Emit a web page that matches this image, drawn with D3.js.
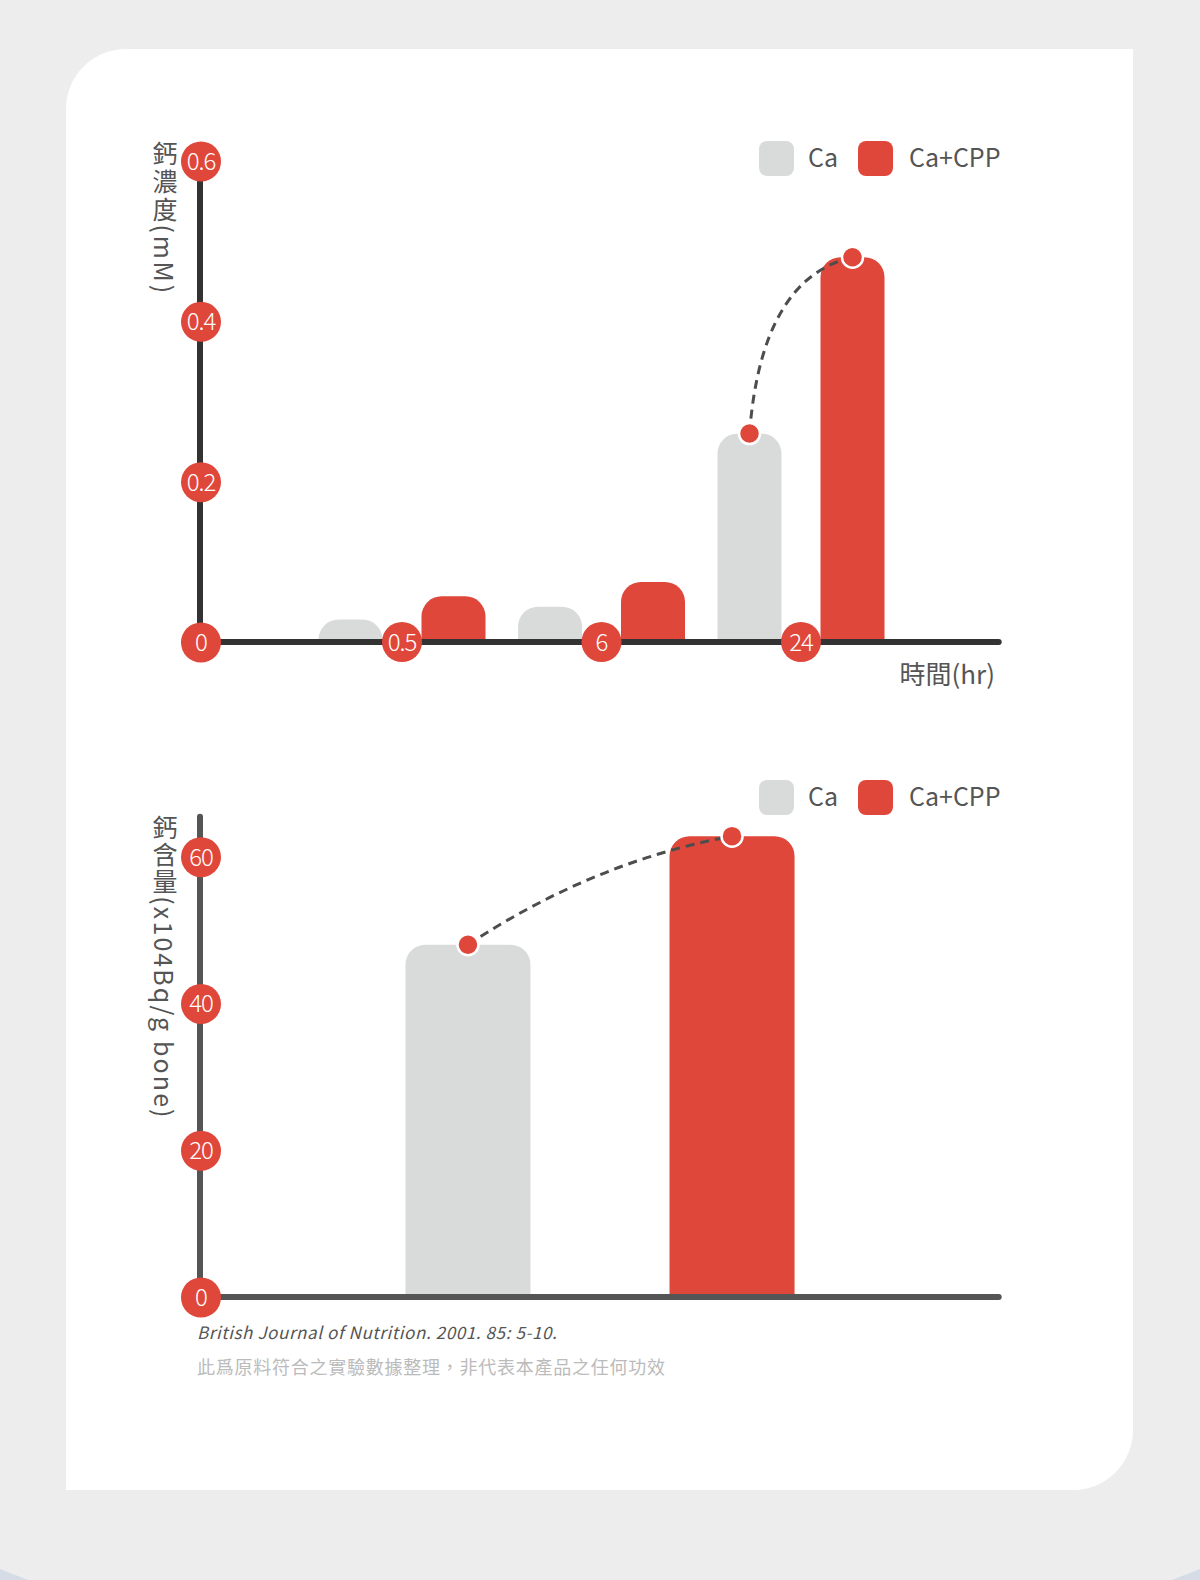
<!DOCTYPE html>
<html><head><meta charset="utf-8">
<script src="https://cdn.jsdelivr.net/npm/d3@7"></script>
<style>
html,body{margin:0;padding:0;background:#ededed;}
svg{display:block;}
text{font-family:"Noto Sans CJK TC","Noto Sans",sans-serif;}
</style></head><body>
<svg id="c" width="1200" height="1580"></svg>
<script>
// ---------- data ----------
const seriesNames = ["Ca", "Ca+CPP"];
const timeCategories = ["0", "0.5", "6", "24"];
const barTimes = ["0.5", "6", "24"];
const caConcentration = [0.028, 0.044, 0.26];
const cppConcentration = [0.057, 0.075, 0.48];
const topYTicks = [0, 0.2, 0.4, 0.6];
const topYTickLabels = ["0", "0.2", "0.4", "0.6"];
const topXTickLabels = ["0.5", "6", "24"];
const boneCalcium = [48, 62.8];
const bottomYTicks = [0, 20, 40, 60];
const bottomYTickLabels = ["0", "20", "40", "60"];
const topYTitle = "鈣濃度(mM)";
const topXTitle = "時間(hr)";
const bottomYTitle = "鈣含量(x104Bq/g bone)";
const sourceNote = "British Journal of Nutrition. 2001. 85: 5-10.";
const disclaimer = "此爲原料符合之實驗數據整理，非代表本產品之任何功效";

// ---------- styles ----------
const RED = "#df473a", GRAY = "#d9dbda", TXT = "#555";
const colors = {"Ca": GRAY, "Ca+CPP": RED};

const svg = d3.select("#c");

// background & card
svg.append("rect").attr("width",1200).attr("height",1580).attr("fill","#ededed");
svg.append("path").attr("d","M0,1569 L28,1580 L0,1580 Z").attr("fill","#d5dce5");
svg.append("path").attr("d","M1200,1569 L1172,1580 L1200,1580 Z").attr("fill","#d5dce5");
svg.append("path")
  .attr("d","M126,49 H1133 V1430 A60,60 0 0 1 1073,1490 H66 V109 A60,60 0 0 1 126,49 Z")
  .attr("fill","#fff");

function topRounded(x, y, w, h, r) {
  r = Math.min(r, w / 2, h);
  const p = d3.path();
  p.moveTo(x, y + h);
  p.lineTo(x, y + r);
  p.arcTo(x, y, x + r, y, r);
  p.lineTo(x + w - r, y);
  p.arcTo(x + w, y, x + w, y + r, r);
  p.lineTo(x + w, y + h);
  p.closePath();
  return p.toString();
}

function styleTicks(g, fs) {
  g.attr("font-family", null).attr("font-size", null).attr("text-anchor", null).attr("fill", null);
  g.select(".domain").remove();
  g.selectAll(".tick line").remove();
  g.selectAll(".tick").insert("circle", "text").attr("r", 20).attr("fill", RED);
  g.selectAll(".tick text")
    .attr("x", 0).attr("dy", null).attr("y", 8.5)
    .attr("text-anchor", "middle")
    .attr("fill", "#fff")
    .attr("font-size", fs)
    .attr("font-weight", 300)
    .attr("letter-spacing", -1);
}

function legend(y0) {
  const items = [{x: 759, tx: 808}, {x: 858, tx: 909}];
  seriesNames.forEach((s, i) => {
    svg.append("rect").attr("x", items[i].x).attr("y", y0).attr("width", 35).attr("height", 35)
      .attr("rx", 8).attr("fill", colors[s]);
    svg.append("text").attr("x", items[i].tx).attr("y", y0 + 26.3).attr("font-size", 25)
      .attr("fill", TXT).text(s);
  });
}

function verticalTitle(x, y, t, ls) {
  svg.append("text").attr("x", x).attr("y", y)
    .style("writing-mode", "vertical-rl")
    .attr("font-size", 25).attr("letter-spacing", ls).attr("fill", TXT).text(t);
}

function dashedCurve(p0, p2, fx, fy) {
  const cx = p0[0] + fx * (p2[0] - p0[0]);
  const cy = p2[1] + fy * (p0[1] - p2[1]);
  const p = d3.path();
  p.moveTo(p0[0], p0[1]);
  p.quadraticCurveTo(cx, cy, p2[0], p2[1]);
  svg.append("path").attr("d", p.toString()).attr("fill", "none")
    .attr("stroke", "#4d4d4d").attr("stroke-width", 3).attr("stroke-dasharray", "9,6");
  [p0, p2].forEach(pt => svg.append("circle").attr("cx", pt[0]).attr("cy", pt[1]).attr("r", 10.5)
    .attr("fill", RED).attr("stroke", "#fff").attr("stroke-width", 2.5));
}

// ================= TOP CHART =================
const xTop = d3.scalePoint().domain(timeCategories.concat(["end"])).range([202, 1000]);
const yTop = d3.scaleLinear().domain([0, 0.6]).range([642, 161]);
const sub = d3.scaleBand().domain(seriesNames).range([-83, 84]).paddingInner(0.3786);

const topData = [];
barTimes.forEach((t, i) => {
  topData.push({t, s: "Ca", v: caConcentration[i]});
  topData.push({t, s: "Ca+CPP", v: cppConcentration[i]});
});
svg.append("g").selectAll("path").data(topData).join("path")
  .attr("d", d => topRounded(xTop(d.t) + sub(d.s), yTop(d.v), sub.bandwidth(), yTop(0) - yTop(d.v), 20))
  .attr("fill", d => colors[d.s]);

// axis lines
svg.append("line").attr("x1", 200).attr("x2", 200).attr("y1", yTop(0.6)).attr("y2", yTop(0))
  .attr("stroke", "#333").attr("stroke-width", 6);
svg.append("line").attr("x1", 200).attr("x2", xTop("end") - 1.3).attr("y1", yTop(0)).attr("y2", yTop(0))
  .attr("stroke", "#333").attr("stroke-width", 6).attr("stroke-linecap", "round");

const gyTop = svg.append("g").attr("transform", "translate(201,0)")
  .call(d3.axisLeft(yTop).tickValues(topYTicks).tickFormat((d, i) => topYTickLabels[i]).tickSize(0));
styleTicks(gyTop, 24);
const gxTop = svg.append("g").attr("transform", `translate(0,${yTop(0)})`)
  .call(d3.axisBottom(xTop).tickValues(topXTickLabels).tickSize(0));
styleTicks(gxTop, 24);

// dashed link between 24h bars
{
  const bw = sub.bandwidth();
  const p0 = [xTop("24") + sub("Ca") + bw / 2, yTop(caConcentration[2])];
  const p2 = [xTop("24") + sub("Ca+CPP") + bw / 2, yTop(cppConcentration[2])];
  dashedCurve(p0, p2, 0.117, 0.118);
}

legend(141);
verticalTitle(165, 141, topYTitle, 2.8);
svg.append("text").attr("x", 995).attr("y", 684).attr("text-anchor", "end")
  .attr("font-size", 26).attr("fill", TXT).text(topXTitle);

// ================= BOTTOM CHART =================
const xBot = d3.scaleBand().domain(seriesNames).range([200, 1000]).paddingInner(0.5265).paddingOuter(0.778);
const yBot = d3.scaleLinear().domain([0, 60]).range([1297, 856.7]);

svg.append("g").selectAll("path").data(seriesNames).join("path")
  .attr("d", (s, i) => topRounded(xBot(s), yBot(boneCalcium[i]), xBot.bandwidth(), yBot(0) - yBot(boneCalcium[i]), 20))
  .attr("fill", s => colors[s]);

svg.append("line").attr("x1", 200).attr("x2", 200).attr("y1", yBot(60) - 40).attr("y2", yBot(0))
  .attr("stroke", "#555").attr("stroke-width", 6).attr("stroke-linecap", "round");
svg.append("line").attr("x1", 200).attr("x2", 998.7).attr("y1", yBot(0)).attr("y2", yBot(0))
  .attr("stroke", "#555").attr("stroke-width", 6).attr("stroke-linecap", "round");

const gyBot = svg.append("g").attr("transform", "translate(201,0)")
  .call(d3.axisLeft(yBot).tickValues(bottomYTicks).tickFormat((d, i) => bottomYTickLabels[i]).tickSize(0));
styleTicks(gyBot, 24);

{
  const bw = xBot.bandwidth();
  const p0 = [xBot("Ca") + bw / 2, yBot(boneCalcium[0])];
  const p2 = [xBot("Ca+CPP") + bw / 2, yBot(boneCalcium[1])];
  dashedCurve(p0, p2, 0.477, 0.234);
}

legend(780);
verticalTitle(165, 815, bottomYTitle, 2.1);

// footnotes
svg.append("text").attr("x", 197).attr("y", 1339).attr("font-size", 17).attr("font-style", "italic")
  .attr("letter-spacing", 0.6).attr("fill", TXT).text(sourceNote);
svg.append("text").attr("x", 197).attr("y", 1374).attr("font-size", 18).attr("letter-spacing", 0.75)
  .attr("fill", "#bbb").text(disclaimer);
</script>
</body></html>
